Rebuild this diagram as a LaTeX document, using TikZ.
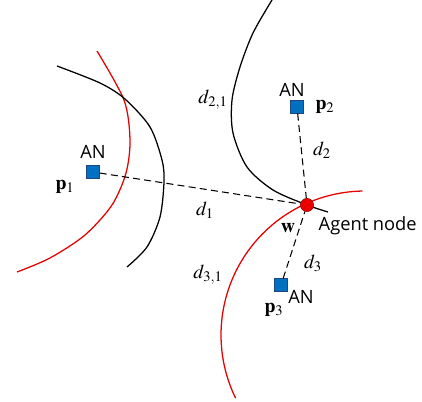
\documentclass[tikz,border=0pt]{standalone}
\usepackage{mathptmx}
\usepackage{fontspec}
\setsansfont{Open Sans}
\usetikzlibrary{positioning}
\definecolor{anblue}{RGB}{0,112,192}
\definecolor{anedge}{RGB}{30,70,130}
\definecolor{agentred}{RGB}{235,0,0}
\definecolor{curvered}{RGB}{230,0,0}

\begin{document}
\begin{tikzpicture}[
    x=0.025cm, y=-0.025cm,
    anchornode/.style={draw=anedge, fill=anblue, minimum size=0.32cm, inner sep=0pt, line width=0.4pt},
    agent/.style={circle, draw=red!60!black, fill=agentred, minimum size=0.33cm, inner sep=0pt, line width=0.4pt},
    locus/.style={line width=0.9pt, black},
    locusred/.style={line width=0.9pt, curvered},
    rangeline/.style={dashed, dash pattern=on 5pt off 3pt, line width=0.75pt},
    antext/.style={font=\sffamily\fontsize{13}{15}\selectfont, inner sep=1pt},
    mlabel/.style={font=\fontsize{14}{17}\selectfont, inner sep=1pt}
]
    \useasboundingbox (0,0) rectangle (422,402);

    % Hyperbolic loci
    \draw[locusred] plot[smooth] coordinates {(97,51) (124,100) (130,140) (126,173) (112,205) (85,235) (50,258) (17,272)};
    \draw[locus] plot[smooth] coordinates {(57,66) (100,83) (125,99) (150,127) (162,160) (164,182) (160,217) (147,247) (127,267)};
    \draw[locus] plot[smooth] coordinates {(272,0) (253,33) (240,67) (232,100) (233,133) (247,167) (273,190) (307,205) (328,212)};
    \draw[locusred] plot[domain=91:206, samples=60] ({365+144*cos(\x)}, {335-144*sin(\x)});

    % Anchor nodes and agent
    \node[anchornode] (p1) at (93,172) {};
    \node[anchornode] (p2) at (297,107) {};
    \node[anchornode] (p3) at (281,285) {};
    \node[agent] (w) at (307,205) {};

    % Ranges
    \draw[rangeline] (p1) -- (w);
    \draw[rangeline] (p2) -- (w);
    \draw[rangeline] (p3) -- (w);

    % Labels
    \node[antext] (an1) at (93,152) {AN};
    \node[antext] (an2) at (292,90) {AN};
    \node[antext] (an3) at (301,297) {AN};
    \node[antext, anchor=west] (agentlbl) at (317,226) {Agent node};
    \node[mlabel] (lp1) at (65,187) {$\mathbf{p}_1$};
    \node[mlabel] (lp2) at (325,107) {$\mathbf{p}_2$};
    \node[mlabel] (lp3) at (274,310) {$\mathbf{p}_3$};
    \node[mlabel] (lw) at (288,228) {$\mathbf{w}$};
    \node[mlabel] (ld1) at (205,210) {$d_1$};
    \node[mlabel] (ld2) at (322,150) {$d_2$};
    \node[mlabel] (ld3) at (313,263) {$d_3$};
    \node[mlabel] (ld21) at (213,100) {$d_{2,1}$};
    \node[mlabel] (ld31) at (208,275) {$d_{3,1}$};
\end{tikzpicture}
\end{document}
